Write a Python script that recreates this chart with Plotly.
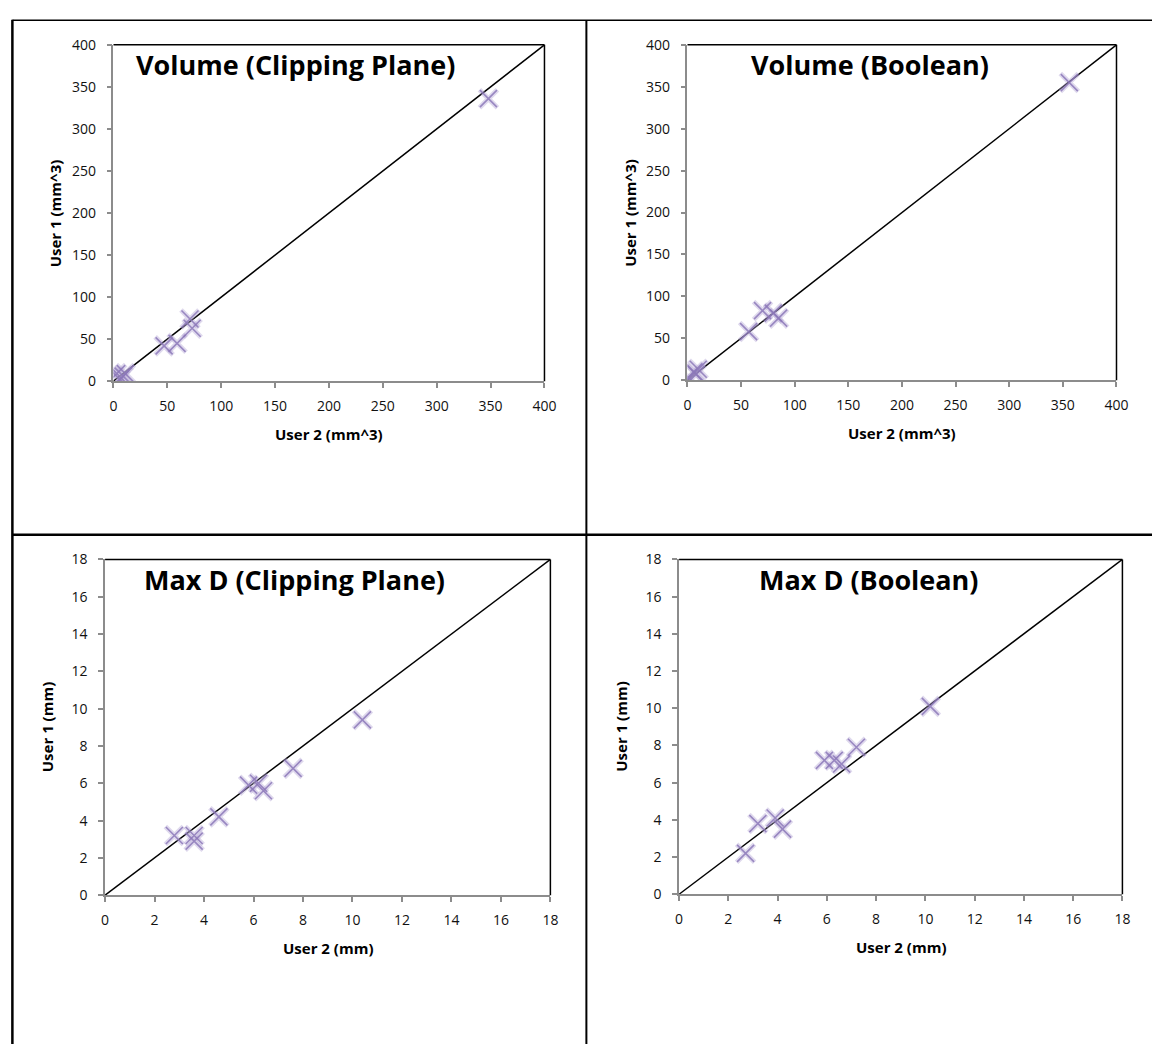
import plotly.graph_objects as go

# ---------------- data ----------------
vol_clip_user2 = [3, 6, 9, 11, 47, 59, 71, 73, 348]
vol_clip_user1 = [9, 2, 6, 9, 42, 45, 74, 63, 336]

vol_bool_user2 = [1, 6, 8, 10, 57, 70, 80, 85, 356]
vol_bool_user1 = [3, 10, 7, 13, 58, 83, 80, 74, 355]

maxd_clip_user2 = [2.8, 3.6, 3.6, 4.6, 5.8, 6.2, 6.4, 7.6, 10.4]
maxd_clip_user1 = [3.2, 3.2, 2.9, 4.2, 5.9, 6.0, 5.6, 6.8, 9.4]

maxd_bool_user2 = [2.7, 3.2, 3.9, 4.2, 5.9, 6.3, 6.6, 7.2, 10.2]
maxd_bool_user1 = [2.2, 3.8, 4.1, 3.5, 7.2, 7.2, 7.0, 7.9, 10.1]

vol_range = [0, 400]
vol_ticks = [0, 50, 100, 150, 200, 250, 300, 350, 400]
maxd_range = [0, 18]
maxd_ticks = [0, 2, 4, 6, 8, 10, 12, 14, 16, 18]

titles = ["Volume (Clipping Plane)", "Volume (Boolean)",
          "Max D (Clipping Plane)", "Max D (Boolean)"]
x_titles = ["User 2 (mm^3)", "User 2 (mm^3)", "User 2 (mm)", "User 2 (mm)"]
y_titles = ["User 1 (mm^3)", "User 1 (mm^3)", "User 1 (mm)", "User 1 (mm)"]

# ---------------- layout geometry ----------------
W, H = 1164, 1053
FONT = "Open Sans"

def px_x(p):
    return p / W

def px_y(p):
    return 1 - p / H

# plot-area pixel boxes: (left, right, top, bottom)
boxes = [
    (111, 548, 35.5, 378),
    (693, 1128, 35.5, 377),
    (102.5, 554, 559.5, 901.5),
    (684.5, 1134, 559.5, 900.5),
]
title_left = [132, 755, 140, 763]

panels = [
    (vol_clip_user2, vol_clip_user1, vol_range, vol_ticks),
    (vol_bool_user2, vol_bool_user1, vol_range, vol_ticks),
    (maxd_clip_user2, maxd_clip_user1, maxd_range, maxd_ticks),
    (maxd_bool_user2, maxd_bool_user1, maxd_range, maxd_ticks),
]

fig = go.Figure()
annotations = []
shapes = []

for i, (xs, ys, rng, ticks) in enumerate(panels):
    n = i + 1
    xa = "x" if n == 1 else f"x{n}"
    ya = "y" if n == 1 else f"y{n}"
    l, r, t, b = boxes[i]

    # identity line across the axis range
    fig.add_trace(go.Scatter(x=rng, y=rng, xaxis=xa, yaxis=ya, mode="lines",
                             line=dict(color="black", width=1.5),
                             showlegend=False, hoverinfo="skip"))
    # soft shadow layer of markers
    fig.add_trace(go.Scatter(x=xs, y=ys, xaxis=xa, yaxis=ya, mode="markers",
                             marker=dict(symbol="x-thin", size=18,
                                         line=dict(color="rgba(175,160,210,0.40)", width=5)),
                             showlegend=False, hoverinfo="skip"))
    # markers
    fig.add_trace(go.Scatter(x=xs, y=ys, xaxis=xa, yaxis=ya, mode="markers",
                             marker=dict(symbol="x-thin", size=17,
                                         line=dict(color="rgba(140,120,185,0.85)", width=1.6)),
                             showlegend=False))

    axis_common = dict(range=rng, tickvals=ticks, showgrid=False, zeroline=False,
                       showline=True, linecolor="#8c8c8c", linewidth=1.5,
                       ticks="outside", ticklen=5, tickcolor="#8c8c8c", tickwidth=1.5,
                       tickfont=dict(family=FONT, size=14, color="#111111"),
                       fixedrange=True)
    fig.layout[("xaxis" if n == 1 else f"xaxis{n}")] = dict(
        domain=[px_x(l), px_x(r)], anchor=ya, ticklabelstandoff=6, **axis_common)
    fig.layout[("yaxis" if n == 1 else f"yaxis{n}")] = dict(
        domain=[px_y(b), px_y(t)], anchor=xa, ticklabelstandoff=8, **axis_common)

    # black top & right border of plot area
    shapes.append(dict(type="line", xref="paper", yref="paper",
                       x0=px_x(l), x1=px_x(r), y0=px_y(t), y1=px_y(t),
                       line=dict(color="black", width=1.5)))
    shapes.append(dict(type="line", xref="paper", yref="paper",
                       x0=px_x(r), x1=px_x(r), y0=px_y(t), y1=px_y(b),
                       line=dict(color="black", width=1.5)))

    # chart title inside plot area
    annotations.append(dict(text=f"<b>{titles[i]}</b>", xref="paper", yref="paper",
                            x=px_x(title_left[i]), y=px_y(t + 20), xanchor="left",
                            yanchor="middle", showarrow=False,
                            font=dict(family=FONT, size=27, color="black")))
    # axis titles
    annotations.append(dict(text=f"<b>{x_titles[i]}</b>", xref="paper", yref="paper",
                            x=px_x((l + r) / 2), y=px_y(b + 54), xanchor="center",
                            yanchor="middle", showarrow=False,
                            font=dict(family=FONT, size=15, color="black")))
    annotations.append(dict(text=f"<b>{y_titles[i]}</b>", xref="paper", yref="paper",
                            x=px_x(l - 59), y=px_y((t + b) / 2), xanchor="center",
                            yanchor="middle", showarrow=False, textangle=-90,
                            font=dict(family=FONT, size=15, color="black")))

# table borders
shapes += [
    dict(type="line", xref="paper", yref="paper", x0=px_x(8.5), x1=1,
         y0=px_y(10.5), y1=px_y(10.5), line=dict(color="black", width=1.5)),
    dict(type="line", xref="paper", yref="paper", x0=px_x(8.5), x1=px_x(8.5),
         y0=px_y(10), y1=0, line=dict(color="black", width=2.5)),
    dict(type="line", xref="paper", yref="paper", x0=px_x(590.5), x1=px_x(590.5),
         y0=px_y(10.5), y1=0, line=dict(color="black", width=2)),
    dict(type="line", xref="paper", yref="paper", x0=px_x(8.5), x1=1,
         y0=px_y(534.5), y1=px_y(534.5), line=dict(color="black", width=2.5)),
]

fig.update_layout(width=W, height=H, margin=dict(l=0, r=0, t=0, b=0),
                  paper_bgcolor="white", plot_bgcolor="white",
                  annotations=annotations, shapes=shapes, showlegend=False)

fig.write_html("out.html")

# remove the browser's default body margin so the figure fills the window exactly
with open("out.html", "r", encoding="utf-8") as f:
    html = f.read()
html = html.replace("<head>", "<head><style>html,body{margin:0;padding:0;overflow:hidden;}</style>", 1)
with open("out.html", "w", encoding="utf-8") as f:
    f.write(html)
